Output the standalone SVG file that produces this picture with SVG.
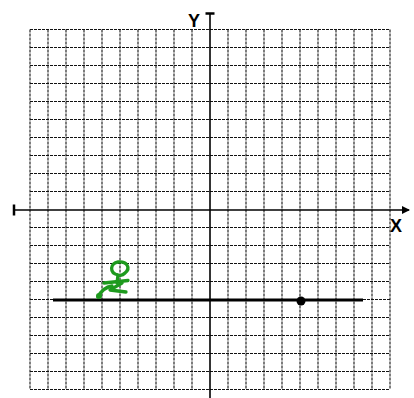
<svg xmlns="http://www.w3.org/2000/svg" width="414" height="398" viewBox="0 0 414 398">
<defs>
<style>
.grid line{stroke:#111;stroke-width:1.1;stroke-dasharray:3 1}
.axis{stroke:#000;stroke-width:1.6;fill:none}
.lbl{font-family:"Liberation Sans",Arial,sans-serif;font-size:18px;font-weight:bold;fill:#000}
.green{stroke:#1e9a1e;stroke-width:3.3;fill:none;stroke-linecap:round;stroke-linejoin:round}
</style>
<marker id="arr" markerWidth="8" markerHeight="8" refX="7" refY="4" orient="auto" markerUnits="userSpaceOnUse">
<path d="M0,0 L8,4 L0,8 Z" fill="#000"/>
</marker>
</defs>
<rect width="414" height="398" fill="#fff"/>
<g id="grid" class="grid">
<line x1="30" y1="29.5" x2="30" y2="389.5"/><line x1="48" y1="29.5" x2="48" y2="389.5"/><line x1="66" y1="29.5" x2="66" y2="389.5"/><line x1="84" y1="29.5" x2="84" y2="389.5"/><line x1="102" y1="29.5" x2="102" y2="389.5"/><line x1="120" y1="29.5" x2="120" y2="389.5"/><line x1="138" y1="29.5" x2="138" y2="389.5"/><line x1="156" y1="29.5" x2="156" y2="389.5"/><line x1="174" y1="29.5" x2="174" y2="389.5"/><line x1="192" y1="29.5" x2="192" y2="389.5"/><line x1="228" y1="29.5" x2="228" y2="389.5"/><line x1="246" y1="29.5" x2="246" y2="389.5"/><line x1="264" y1="29.5" x2="264" y2="389.5"/><line x1="282" y1="29.5" x2="282" y2="389.5"/><line x1="300" y1="29.5" x2="300" y2="389.5"/><line x1="318" y1="29.5" x2="318" y2="389.5"/><line x1="336" y1="29.5" x2="336" y2="389.5"/><line x1="354" y1="29.5" x2="354" y2="389.5"/><line x1="372" y1="29.5" x2="372" y2="389.5"/><line x1="390" y1="29.5" x2="390" y2="389.5"/>
<line x1="30" y1="29.5" x2="390" y2="29.5"/><line x1="30" y1="47.5" x2="390" y2="47.5"/><line x1="30" y1="65.5" x2="390" y2="65.5"/><line x1="30" y1="83.5" x2="390" y2="83.5"/><line x1="30" y1="101.5" x2="390" y2="101.5"/><line x1="30" y1="119.5" x2="390" y2="119.5"/><line x1="30" y1="137.5" x2="390" y2="137.5"/><line x1="30" y1="155.5" x2="390" y2="155.5"/><line x1="30" y1="173.5" x2="390" y2="173.5"/><line x1="30" y1="191.5" x2="390" y2="191.5"/><line x1="30" y1="227.5" x2="390" y2="227.5"/><line x1="30" y1="245.5" x2="390" y2="245.5"/><line x1="30" y1="263.5" x2="390" y2="263.5"/><line x1="30" y1="281.5" x2="390" y2="281.5"/><line x1="30" y1="317.5" x2="390" y2="317.5"/><line x1="30" y1="335.5" x2="390" y2="335.5"/><line x1="30" y1="353.5" x2="390" y2="353.5"/><line x1="30" y1="371.5" x2="390" y2="371.5"/><line x1="30" y1="389.5" x2="390" y2="389.5"/>
<line x1="30" y1="299.5" x2="53" y2="299.5"/>
<line x1="363" y1="299.5" x2="390" y2="299.5"/>
</g>
<g id="connectors">
<line id="x-axis" class="axis" x1="14" y1="210" x2="409" y2="210" marker-end="url(#arr)"/>
<line id="x-cap" x1="14" y1="204.5" x2="14" y2="215.5" stroke="#000" stroke-width="2.5"/>
<line id="y-axis" class="axis" x1="210" y1="13" x2="210" y2="398"/>
<line id="y-cap" x1="205.5" y1="13.5" x2="214.5" y2="13.5" stroke="#000" stroke-width="2.5"/>
<line id="graph-line" x1="53" y1="300" x2="363" y2="300" stroke="#000" stroke-width="3"/>
</g>
<g id="point"><circle cx="301" cy="301" r="4.5" fill="#000"/></g>
<g id="labels">
<text class="lbl" x="188" y="27">Y</text>
<text class="lbl" x="390" y="232">X</text>
</g>
<g id="g-label">
<path class="green" d="M118,275 C109,273 110,263 118,262 C127,261 131,268 125,273 C122,276 118,276 118,275 L117,283"/>
<path class="green" d="M104,283 L128,280.5"/>
<path class="green" d="M122,283 L110,290 L126,292"/>
<path class="green" d="M98,297 C101,291 106,287 112,286"/>
<circle cx="99" cy="296" r="3" fill="#1e9a1e"/>
</g>
</svg>
